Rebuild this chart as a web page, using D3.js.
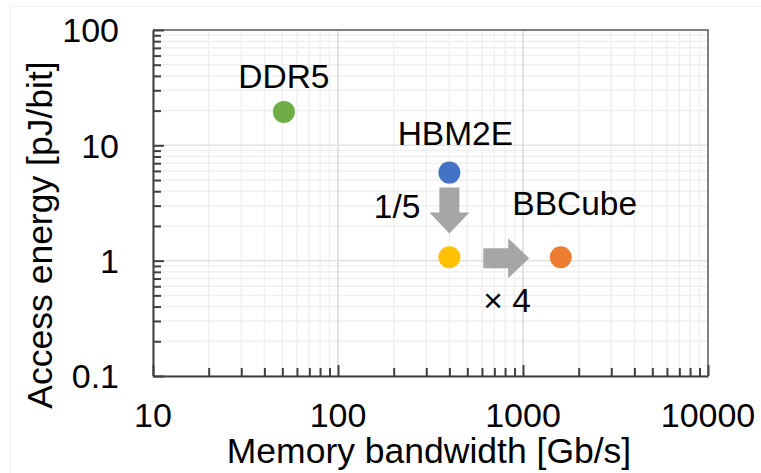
<!DOCTYPE html>
<html>
<head>
<meta charset="utf-8">
<script src="https://cdn.jsdelivr.net/npm/d3@7"></script>
<style>
  body { margin: 0; background: #fff; }
  svg { display: block; font-family: "Liberation Sans", Arial, sans-serif; }
</style>
</head>
<body>
<svg id="chart" width="761" height="473"></svg>
<script>
'use strict';

// data
var names = ['DDR5', 'HBM2E', '', 'BBCube'];
var bandwidth = [51, 400, 400, 1600];   // Gb/s
var energy = [19.5, 5.8, 1.07, 1.07];    // pJ/bit
var colors = ['#70ad47', '#4472c4', '#ffc000', '#ed7d31'];

var xTicks = [10, 100, 1000, 10000];
var yTicks = [0.1, 1, 10, 100];

// annotation arrows (data space)
var arrowFrom = [[400, 4.3], [610, 1.05]];
var arrowTo = [[400, 1.72], [1080, 1.05]];
var arrowText = ['1/5', '\u00d7 4'];

var svg = d3.select('#chart');
var W = 761, H = 473;
var m = {left: 153, right: W - 708, top: 30, bottom: H - 376};

var x = d3.scaleLog().domain([10, 10000]).range([m.left, W - m.right]);
var y = d3.scaleLog().domain([0.1, 100]).range([H - m.bottom, m.top]);

// faint outer frame
svg.append('rect')
  .attr('x', 10.5).attr('y', 6.5)
  .attr('width', W).attr('height', H)
  .attr('fill', 'none')
  .attr('stroke', '#f0f0f0');

var minorX = x.ticks().filter(function (d) { return xTicks.indexOf(d) < 0; });
var minorY = y.ticks().filter(function (d) { return yTicks.indexOf(d) < 0; });

var grid = svg.append('g');
grid.selectAll('.mx').data(minorX).enter().append('line')
  .attr('x1', x).attr('x2', x)
  .attr('y1', m.top).attr('y2', H - m.bottom)
  .attr('stroke', '#f0f0f0').attr('stroke-width', 1.5);
grid.selectAll('.my').data(minorY).enter().append('line')
  .attr('y1', y).attr('y2', y)
  .attr('x1', m.left).attr('x2', W - m.right)
  .attr('stroke', '#f0f0f0').attr('stroke-width', 1.5);
grid.selectAll('.Mx').data(xTicks).enter().append('line')
  .attr('x1', x).attr('x2', x)
  .attr('y1', m.top).attr('y2', H - m.bottom)
  .attr('stroke', '#d9d9d9').attr('stroke-width', 1.5);
grid.selectAll('.My').data(yTicks).enter().append('line')
  .attr('y1', y).attr('y2', y)
  .attr('x1', m.left).attr('x2', W - m.right)
  .attr('stroke', '#e2e2e2').attr('stroke-width', 1.5);

// top / right frame
svg.append('path')
  .attr('d', 'M' + m.left + ',' + m.top + 'H' + (W - m.right) + 'V' + (H - m.bottom))
  .attr('fill', 'none').attr('stroke', '#808080').attr('stroke-width', 2);

// axes with inward ticks
var tickLen = function (d, list) { return list.indexOf(d) >= 0 ? 11 : 8; };

var xAxis = svg.append('g').attr('transform', 'translate(0,' + (H - m.bottom) + ')')
  .call(d3.axisBottom(x).tickValues(x.ticks()).tickSizeOuter(0).tickFormat(''));
xAxis.selectAll('.tick line').attr('y2', function (d) { return -tickLen(d, xTicks); });
var yAxis = svg.append('g').attr('transform', 'translate(' + m.left + ',0)')
  .call(d3.axisLeft(y).tickValues(y.ticks()).tickSizeOuter(0).tickFormat(''));
yAxis.selectAll('.tick line').attr('x2', function (d) { return tickLen(d, yTicks); });
svg.selectAll('.domain, .tick line').attr('stroke', '#404040').attr('stroke-width', 2);

// tick labels
svg.selectAll('.xl').data(xTicks).enter().append('text')
  .attr('x', x).attr('y', H - m.bottom + 51)
  .attr('text-anchor', 'middle').attr('font-size', 34)
  .text(function (d) { return d; });
svg.selectAll('.yl').data(yTicks).enter().append('text')
  .attr('x', m.left - 34).attr('y', y).attr('dy', '0.36em')
  .attr('text-anchor', 'end').attr('font-size', 34)
  .text(function (d) { return d; });

// axis titles
svg.append('text')
  .attr('x', 429).attr('y', 463)
  .attr('text-anchor', 'middle').attr('font-size', 35.5)
  .text('Memory bandwidth [Gb/s]');
svg.append('text')
  .attr('transform', 'translate(52,235) rotate(-90)')
  .attr('text-anchor', 'middle').attr('font-size', 35.5)
  .text('Access energy [pJ/bit]');

// arrows
var arrowPath = function (len) {
  // pointing +x, shaft width 20, head width 40, head length 21
  var h = 21;
  return 'M0,-10H' + (len - h) + 'V-20L' + len + ',0L' + (len - h) + ',20V10H0Z';
};
arrowFrom.forEach(function (f, i) {
  var t = arrowTo[i];
  var x0 = x(f[0]), y0 = y(f[1]), x1 = x(t[0]), y1 = y(t[1]);
  var len = Math.hypot(x1 - x0, y1 - y0);
  var ang = Math.atan2(y1 - y0, x1 - x0) * 180 / Math.PI;
  svg.append('path')
    .attr('transform', 'translate(' + x0 + ',' + y0 + ') rotate(' + ang + ')')
    .attr('d', arrowPath(len))
    .attr('fill', '#a6a6a6');
});

// arrow texts
svg.append('text')
  .attr('x', x(arrowFrom[0][0]) - 29).attr('y', 218)
  .attr('text-anchor', 'end').attr('font-size', 33.5)
  .text(arrowText[0]);
svg.append('text')
  .attr('x', x(arrowFrom[1][0])).attr('y', 312)
  .attr('font-size', 33.5)
  .text(arrowText[1]);

// points
svg.selectAll('.pt').data(bandwidth).enter().append('circle')
  .attr('cx', function (d) { return x(d); })
  .attr('cy', function (d, i) { return y(energy[i]); })
  .attr('r', 11)
  .attr('fill', function (d, i) { return colors[i]; });

// point labels
var labelOff = [[0, -24], [6, -28], [0, 0], [14, -42]];
svg.selectAll('.pl').data(names).enter().append('text')
  .attr('x', function (d, i) { return x(bandwidth[i]) + labelOff[i][0]; })
  .attr('y', function (d, i) { return y(energy[i]) + labelOff[i][1]; })
  .attr('text-anchor', 'middle')
  .attr('font-size', 33.5)
  .text(function (d) { return d; });
</script>
</body>
</html>
